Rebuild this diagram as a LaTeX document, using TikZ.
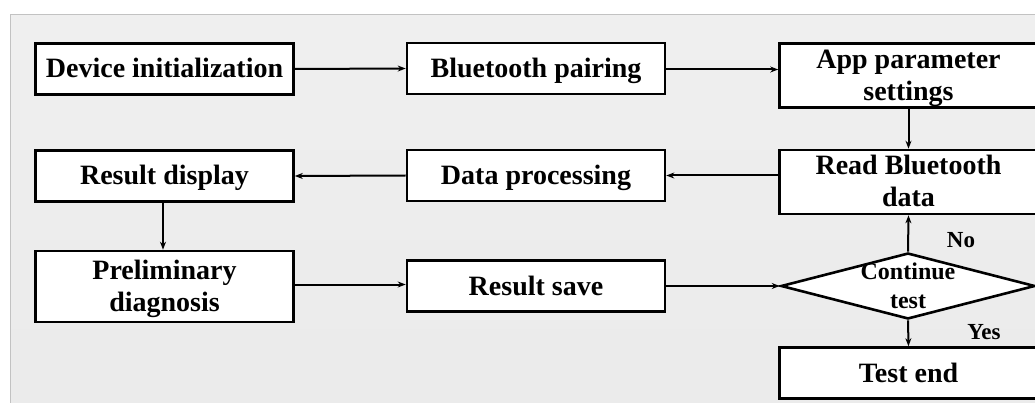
\documentclass[tikz,border=0pt]{standalone}
\usepackage{fontspec}
\setmainfont{Liberation Serif}
\usetikzlibrary{shapes.geometric,arrows.meta,calc}
\definecolor{panel}{HTML}{EFEFEF}
\definecolor{panelline}{HTML}{C2C2C2}
% fixed line height so that every box label sits on the same baseline
\newcommand{\fstrut}{\rule[-6pt]{0pt}{30pt}}
\newcommand{\dstrut}{\rule[-5pt]{0pt}{25pt}}
\tikzset{
  stepbox/.style={draw=black, line width=2.6pt, fill=white, minimum width=258pt,
    minimum height=51pt, inner sep=0pt, align=center,
    font=\fontsize{28pt}{32pt}\selectfont\bfseries},
  tallbox/.style={stepbox, minimum height=64pt},
  decision/.style={draw=black, line width=2.6pt, fill=white, shape=diamond,
    minimum width=254pt, minimum height=66pt, inner sep=0pt},
  flow/.style={line width=2pt, -{Stealth[length=8pt,width=6pt]}},
  answer/.style={font=\fontsize{23pt}{25pt}\selectfont\bfseries, inner sep=0pt},
}
\begin{document}
\begin{tikzpicture}[x=1pt,y=-1pt]
  \useasboundingbox (0,0) rectangle (1035,403);
  \clip (0,0) rectangle (1035,403);
  % background panel
  \shade[top color=panel, bottom color=black!8] (10,15) rectangle (1040,410);
  \draw[panelline, line width=1pt] (10,410) -- (10,15) -- (1040,15);

  % first row
  \node[stepbox] (init) at (164.5,69) {\fstrut Device initialization};
  \node[stepbox] (pair) at (536,68.5) {\fstrut Bluetooth pairing};
  \node[tallbox] (app)  at (908.5,75.5) {\fstrut App parameter\\\fstrut settings};
  % second row
  \node[stepbox] (disp) at (164.5,176) {\fstrut Result display};
  \node[stepbox] (proc) at (536,175.5) {\fstrut Data processing};
  \node[tallbox] (read) at (908.5,182) {\fstrut Read Bluetooth\\\fstrut data};
  % third row
  \node[stepbox, minimum height=71pt] (diag) at (164.5,286.5) {\fstrut Preliminary\\\fstrut diagnosis};
  \node[stepbox] (save) at (536,286) {\fstrut Result save};
  \node[decision] (cont) at (908,286) {};
  \node[font=\fontsize{24pt}{29pt}\selectfont\bfseries, align=center, inner sep=0pt]
    (conttext) at (908,286) {\dstrut Continue\\\dstrut test};
  \node[stepbox] (end) at (908.5,373) {\fstrut Test end};

  % connectors
  \draw[flow] (init.east) -- (pair.west);
  \draw[flow] ($(pair.east)+(0,1)$) -- ($(pair.east -| app.west)+(0,1)$);
  \draw[flow] (app.south) -- (read.north);
  \draw[flow] (proc.east -| read.west) -- (proc.east);
  \draw[flow] (proc.west) -- (disp.east);
  \draw[flow] (disp.south -| 163,0) -- (diag.north -| 163,0);
  \draw[flow] ($(diag.east)+(0,-2)$) -- ($(diag.east -| save.west)+(0,-2)$);
  \draw[flow] (save.east) -- (cont.west);
  \draw[flow] (cont.north) -- (read.south);
  \draw[flow] (cont.south) -- (end.north);

  % branch labels
  \node[answer] (no)  at (961,240) {No};
  \node[answer] (yes) at (984,332) {Yes};
\end{tikzpicture}
\end{document}
